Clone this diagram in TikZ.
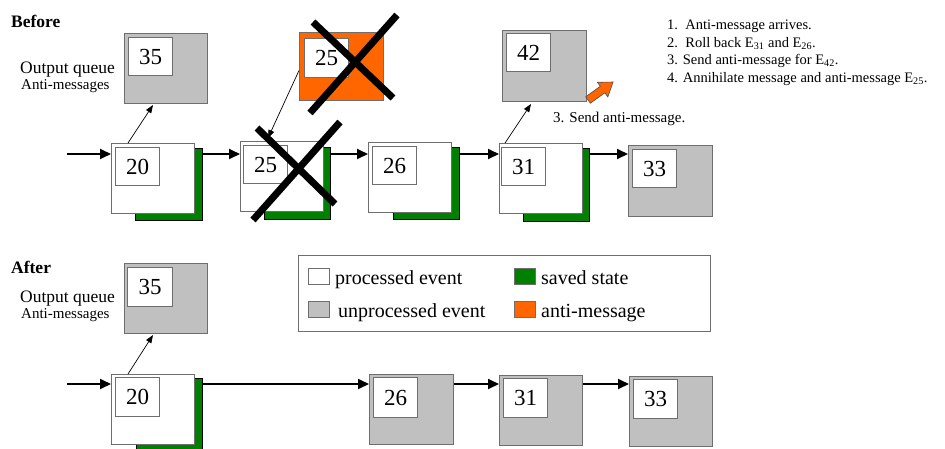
\documentclass[tikz,border=0pt]{standalone}
\usepackage{fontspec}
\setmainfont{Liberation Serif}
\usetikzlibrary{arrows.meta,positioning,calc}

\definecolor{stategreen}{HTML}{008000}
\definecolor{antiorange}{HTML}{FF6600}
\definecolor{pendgray}{HTML}{C0C0C0}
\definecolor{edgegray}{HTML}{6E6E6E}

\tikzset{
  evbox/.style={draw=edgegray, line width=1pt, minimum width=83pt, minimum height=70pt, inner sep=0pt, anchor=north west},
  statebox/.style={draw=black, fill=stategreen, line width=0.7pt, minimum width=67pt, minimum height=72pt, inner sep=0pt, anchor=north west},
  numbox/.style={draw=edgegray, fill=white, line width=1pt, minimum width=44pt, minimum height=38pt, inner sep=0pt, anchor=north west, font=\fontsize{23}{26}\selectfont},
  keybox/.style={draw=edgegray, line width=1pt, minimum width=21pt, minimum height=16pt, inner sep=0pt, anchor=north west},
  keytext/.style={anchor=base west, inner sep=0pt, font=\fontsize{20}{24}\selectfont},
  note/.style={anchor=base west, inner sep=0pt, font=\fontsize{14.5}{17}\selectfont},
  head/.style={anchor=base west, inner sep=0pt, font=\bfseries\fontsize{17.5}{20}\selectfont},
  flow/.style={line width=1.8pt, -{Triangle[length=11pt,width=10pt]}},
  link/.style={line width=0.7pt, -{Triangle[length=8pt,width=6pt]}},
  cross/.style={line width=7pt}
}

\begin{document}
\begin{tikzpicture}[x=1pt,y=-1pt]
    \useasboundingbox (0,0) rectangle (945,448);
    \fill[white] (0,0) rectangle (945,448);

    % ---- before the anti-message is handled ----
    \node[head] (before) at (11,27) {Before};
    \node[anchor=base west, inner sep=0pt, font=\fontsize{17.5}{20}\selectfont] (oq1) at (20,73) {Output queue};
    \node[anchor=base west, inner sep=0pt, font=\fontsize{15}{18}\selectfont] (am1) at (21,89) {Anti-messages};

    \node[evbox, fill=pendgray] (q35) at (124,33) {};
    \node[numbox] (q35n) at ($(q35.north west)+(4,4)$) {35};

    \node[statebox] (s20) at (135,148) {};
    \node[evbox, fill=white] (e20) at (111,143) {};
    \node[numbox] (e20n) at ($(e20.north west)+(4,4)$) {20};

    \node[statebox, minimum width=66pt] (s25) at (264,147) {};
    \node[evbox, fill=white] (e25) at (240,141) {};
    \node[numbox] (e25n) at ($(e25.north west)+(3,4)$) {25};

    \node[evbox, fill=antiorange, minimum width=84pt, minimum height=68pt] (a25) at (299,32) {};
    \node[numbox, minimum height=39pt] (a25n) at ($(a25.north west)+(5,6)$) {25};

    \node[statebox, minimum width=66pt] (s26) at (393,147) {};
    \node[evbox, fill=white] (e26) at (368,142) {};
    \node[numbox] (e26n) at ($(e26.north west)+(4,4)$) {26};

    \node[statebox, minimum width=66pt, minimum height=73pt] (s31) at (523,148) {};
    \node[evbox, fill=white] (e31) at (499,143) {};
    \node[numbox] (e31n) at ($(e31.north west)+(2,4)$) {31};

    \node[evbox, fill=pendgray, minimum width=84pt, minimum height=71pt] (q42) at (502,30) {};
    \node[numbox] (q42n) at ($(q42.north west)+(4,3)$) {42};

    \node[evbox, fill=pendgray, minimum width=84pt, minimum height=71pt] (e33) at (628,145) {};
    \node[numbox] (e33n) at ($(e33.north west)+(4,4)$) {33};

    % event chain
    \coordinate (in1) at (67,154);
    \draw[flow] (in1) -- (in1 -| e20.west);
    \draw[flow] (s20.east |- in1) -- (in1 -| e25.west);
    \draw[flow] (s25.east |- in1) -- (in1 -| e26.west);
    \draw[flow] (s26.east |- in1) -- (in1 -| e31.west);
    \draw[flow] (s31.east |- in1) -- (in1 -| e33.west);

    % messages sent and received
    \draw[link] ($(e20.north west)+(17,0)$) -- ($(q35.south west)+(29,1)$);
    \draw[link] ($(a25.west)+(0,4)$) -- ($(e25.north west)+(28,-3)$);
    \draw[link] ($(e31.north west)+(6,0)$) -- ($(q42.south west)+(29,2)$);

    % annihilated pair
    \draw[cross] (257,128) -- (335,204);
    \draw[cross] (253,220) -- (340,122);
    \draw[cross] (313,22) -- (393,98);
    \draw[cross] (310,113) -- (397,15);

    % outgoing anti-message
    \draw[fill=antiorange, draw=black!70, line width=0.6pt] (590.3,103.2) -- (604.9,92.8) -- (607.8,96.9) -- (613.1,82.0) -- (597.4,82.3) -- (600.3,86.3) -- (585.7,96.8) -- cycle;
    \node[anchor=base west, inner sep=0pt, font=\fontsize{15}{18}\selectfont] (send) at (553,122) {3. Send anti-message.};

    % steps
    \node[note] (n1) at (667,29) {1.\ \ Anti-message arrives.};
    \node[note] (n2) at (667,47) {2.\ \ Roll back E\textsubscript{31} and E\textsubscript{26}.};
    \node[note] (n3) at (667,64) {3. Send anti-message for E\textsubscript{42}.};
    \node[note] (n4) at (667,82) {4. Annihilate message and anti-message E\textsubscript{25}.};

    % ---- after rollback ----
    \node[head] (after) at (11,273) {After};
    \node[anchor=base west, inner sep=0pt, font=\fontsize{17.5}{20}\selectfont] (oq2) at (20,302) {Output queue};
    \node[anchor=base west, inner sep=0pt, font=\fontsize{15}{18}\selectfont] (am2) at (21,318) {Anti-messages};

    \node[evbox, fill=pendgray] (p35) at (124,263) {};
    \node[numbox, minimum width=45pt, minimum height=39pt] (p35n) at ($(p35.north west)+(3,4)$) {35};

    \node[statebox, minimum width=66pt] (t20) at (136,378) {};
    \node[evbox, fill=white] (f20) at (111,374) {};
    \node[numbox, minimum height=39pt] (f20n) at ($(f20.north west)+(4,3)$) {20};

    \node[evbox, fill=pendgray, minimum width=84pt] (f26) at (369,374) {};
    \node[numbox, minimum height=40pt] (f26n) at ($(f26.north west)+(4,3)$) {26};

    \node[evbox, fill=pendgray] (f31) at (499,375) {};
    \node[numbox, minimum height=39pt] (f31n) at ($(f31.north west)+(4,3)$) {31};

    \node[evbox, fill=pendgray] (f33) at (629,376) {};
    \node[numbox, minimum height=39pt] (f33n) at ($(f33.north west)+(4,3)$) {33};

    \coordinate (in2) at (67,384);
    \draw[flow] (in2) -- (in2 -| f20.west);
    \draw[flow] (t20.east |- in2) -- (in2 -| f26.west);
    \draw[flow] (f26.east |- in2) -- (in2 -| f31.west);
    \draw[flow] (f31.east |- in2) -- (in2 -| f33.west);
    \draw[link] ($(f20.north west)+(17,0)$) -- ($(p35.south west)+(29,1)$);

    % legend
    \node[draw=edgegray, line width=1pt, minimum width=412pt, minimum height=76pt, inner sep=0pt, anchor=north west] (legend) at (298,255) {};
    \node[keybox, fill=white] (k1) at (308,268) {};
    \node[keytext] (k1t) at ($(k1.south east)+(5,-1)$) {processed event};
    \node[keybox, fill=pendgray] (k2) at (308,301) {};
    \node[keytext] (k2t) at ($(k2.south east)+(8,-1)$) {unprocessed event};
    \node[keybox, fill=stategreen] (k3) at (514,268) {};
    \node[keytext] (k3t) at ($(k3.south east)+(5,-1)$) {saved state};
    \node[keybox, fill=antiorange] (k4) at (514,301) {};
    \node[keytext] (k4t) at ($(k4.south east)+(5,-1)$) {anti-message};
\end{tikzpicture}
\end{document}
